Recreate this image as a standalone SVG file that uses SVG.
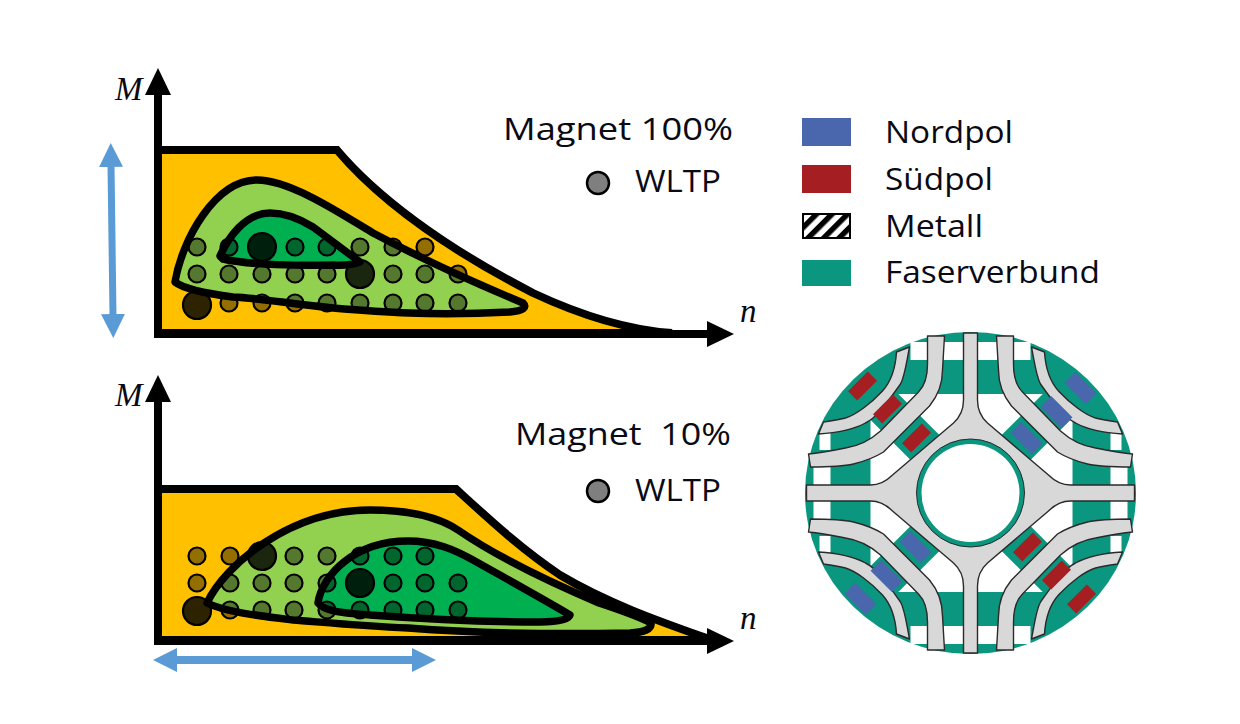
<svg xmlns="http://www.w3.org/2000/svg" width="1240" height="724" viewBox="0 0 1240 724">
<style>
text{font-family:"Open Sans","Noto Sans","Liberation Sans",sans-serif;font-size:31px;fill:#0a0a14}
.var{font-family:"Liberation Serif",serif;font-style:italic;font-size:33px}
.area{fill:#ffc000;stroke:#000;stroke-width:8;stroke-linejoin:miter}
.l{fill:#92d050;stroke:#000;stroke-width:7.5;stroke-linejoin:round}
.d{fill:#00b050;stroke:#000;stroke-width:7.5;stroke-linejoin:round}
.axis{stroke:#000;stroke-width:8;fill:none}
.blue{stroke:#5b9bd5;stroke-width:7;fill:none}
.dots circle{fill:#000;fill-opacity:.42;stroke:#000;stroke-width:2.2}
circle.big{fill-opacity:.82!important}
.leg{fill:#7f7f7f;stroke:#000;stroke-width:2.5}
.band{fill:#d8d8d8;stroke:#2a2a2a;stroke-width:1.4;stroke-linejoin:round}
.t{fill:#0a967f}
.w{fill:#fff}
.n{fill:#4a66ad}
.s{fill:#a51e22}
</style>
<defs>
<marker id="ah" viewBox="0 0 28 26" refX="2" refY="13" markerWidth="28" markerHeight="26" markerUnits="userSpaceOnUse" orient="auto"><path d="M0,0L27,13L0,26Z" fill="#000"/></marker>
<marker id="bh" viewBox="0 0 24 24" refX="2" refY="12" markerWidth="24" markerHeight="24" markerUnits="userSpaceOnUse" orient="auto-start-reverse"><path d="M0,0L24,12L0,24Z" fill="#5b9bd5"/></marker>
<pattern id="hatch" width="11" height="11" patternUnits="userSpaceOnUse" patternTransform="rotate(45)"><rect width="11" height="11" fill="#fff"/><rect width="5.5" height="11" fill="#000"/></pattern>
<clipPath id="disc"><ellipse cx="0" cy="0" rx="165.5" ry="161"/></clipPath>
<g id="quad">
<rect class="w" x="-27" y="-151" width="20" height="18"/>
<rect class="w" x="-60" y="-151" width="17" height="18"/>
<rect class="w" x="-157" y="-27" width="17" height="20"/>
<rect class="w" x="-151" y="-60" width="11" height="17"/>
<path class="band" d="M-43,-157L-43,-129C-43,-115-46,-107-52,-101L-90,-62C-100,-53-112,-47-125,-45C-140,-42-150,-40-162,-39L-160,-26C-145,-26-130,-26-117,-29C-105,-32-95,-36-87,-41L-41,-87C-32,-98-28,-110-28,-123L-26,-157Z"/>
<path class="band" d="M-74,-141C-75,-125-79,-112-88,-102C-100,-89-115,-78-125,-75C-133,-73-140,-72-147,-71L-152,-59C-135,-60-118,-63-105,-70C-95,-75-87,-85-70,-109C-66,-116-65,-125-61,-146Z"/>
</g>
<g id="frame" clip-path="url(#disc)">
<rect class="t" x="-170" y="-165" width="340" height="330"/>
<rect class="w" x="-100" y="-99" width="202" height="198"/>
<rect class="t" x="-19" y="-148" width="38" height="90" transform="rotate(-45)"/>
<rect class="t" x="-19" y="-148" width="38" height="90" transform="rotate(45)"/>
<rect class="t" x="-19" y="-148" width="38" height="90" transform="rotate(135)"/>
<rect class="t" x="-19" y="-148" width="38" height="90" transform="rotate(225)"/>
</g>
</defs>

<g id="plot-top">
<path class="area" d="M158,150L337,150C375,195 440,245 533,293C580,315 630,330 672,333L158,333Z"/>
<path class="l" d="M175,282C182,240 215,180 257,180C290,180 340,213 373,233C420,258 480,285 523,303Q530,310 510,312C430,316 380,312 333,308C290,304 260,298 233,297C210,294 185,290 175,282Z"/>
<path class="d" d="M220,256C228,238 245,213 270,213C290,213 305,222 313,227L360,262Q350,266 333,265C300,266 250,265 223,259Z"/>
<g class="dots">
<circle cx="197" cy="247" r="8.5"/><circle cx="229" cy="247" r="8.5"/><circle cx="295" cy="247" r="8.5"/><circle cx="327" cy="247" r="8.5"/><circle cx="360" cy="247" r="8.5"/><circle cx="393" cy="247" r="8.5"/><circle cx="425" cy="247" r="8.5"/>
<circle cx="197" cy="274" r="8.5"/><circle cx="229" cy="274" r="8.5"/><circle cx="262" cy="274" r="8.5"/><circle cx="295" cy="274" r="8.5"/><circle cx="327" cy="274" r="8.5"/><circle cx="393" cy="274" r="8.5"/><circle cx="425" cy="274" r="8.5"/><circle cx="458" cy="274" r="8.5"/>
<circle cx="229" cy="303" r="8.5"/><circle cx="262" cy="303" r="8.5"/><circle cx="295" cy="303" r="8.5"/><circle cx="327" cy="303" r="8.5"/><circle cx="360" cy="303" r="8.5"/><circle cx="393" cy="303" r="8.5"/><circle cx="425" cy="303" r="8.5"/><circle cx="458" cy="303" r="8.5"/>
<circle class="big" cx="262" cy="247" r="14"/><circle class="big" cx="360" cy="274" r="14"/><circle class="big" cx="197" cy="305" r="14"/>
</g>
</g>

<g id="plot-bottom">
<path class="area" d="M158,489L456,489C490,520 520,548 560,575C610,605 670,625 712,640L158,640Z"/>
<path class="l" d="M207,603C225,565 290,510 370,510C410,510 440,518 458,530C490,552 540,578 599,603C620,610 640,617 651,623Q652,632 630,633C530,635 460,632 408,628C360,626 320,622 293,620C260,616 225,612 207,603Z"/>
<path class="d" d="M318,603C322,575 355,541 408,541C435,541 455,550 473,560C505,578 545,600 570,615Q568,622 540,622C480,622 410,618 370,615C345,613 325,612 318,603Z"/>
<g class="dots">
<circle cx="197" cy="556" r="8.5"/><circle cx="230" cy="556" r="8.5"/><circle cx="294" cy="556" r="8.5"/><circle cx="327" cy="556" r="8.5"/><circle cx="360" cy="556" r="8.5"/><circle cx="393" cy="556" r="8.5"/><circle cx="425" cy="556" r="8.5"/>
<circle cx="197" cy="583" r="8.5"/><circle cx="230" cy="583" r="8.5"/><circle cx="262" cy="583" r="8.5"/><circle cx="294" cy="583" r="8.5"/><circle cx="327" cy="583" r="8.5"/><circle cx="393" cy="583" r="8.5"/><circle cx="425" cy="583" r="8.5"/><circle cx="458" cy="583" r="8.5"/>
<circle cx="230" cy="610" r="8.5"/><circle cx="262" cy="610" r="8.5"/><circle cx="294" cy="610" r="8.5"/><circle cx="327" cy="610" r="8.5"/><circle cx="360" cy="610" r="8.5"/><circle cx="393" cy="610" r="8.5"/><circle cx="425" cy="610" r="8.5"/><circle cx="458" cy="610" r="8.5"/>
<circle class="big" cx="262" cy="556" r="14"/><circle class="big" cx="360" cy="583" r="14"/><circle class="big" cx="197" cy="611" r="14"/>
</g>
</g>

<g id="connectors">
<path class="axis" marker-end="url(#ah)" d="M158,337L158,93"/>
<path class="axis" marker-end="url(#ah)" d="M154,334L709,334"/>
<path class="axis" marker-end="url(#ah)" d="M158,644L158,400"/>
<path class="axis" marker-end="url(#ah)" d="M154,641L709,641"/>
<path class="blue" marker-start="url(#bh)" marker-end="url(#bh)" d="M111,165L113,316"/>
<path class="blue" style="stroke-width:8" marker-start="url(#bh)" marker-end="url(#bh)" d="M175,660L414,660"/>
</g>

<g id="labels">
<text class="var" x="115" y="100">M</text>
<text class="var" x="740" y="322">n</text>
<text class="var" x="115" y="406">M</text>
<text class="var" x="740" y="629">n</text>
<text x="503" y="140" textLength="230" lengthAdjust="spacingAndGlyphs">Magnet 100%</text>
<text x="515" y="445" textLength="216" lengthAdjust="spacingAndGlyphs" xml:space="preserve">Magnet  10%</text>
<circle class="leg" cx="598" cy="183" r="11"/>
<text x="635" y="192" textLength="86" lengthAdjust="spacingAndGlyphs">WLTP</text>
<circle class="leg" cx="598" cy="491" r="11"/>
<text x="635" y="501" textLength="86" lengthAdjust="spacingAndGlyphs">WLTP</text>
</g>

<g id="legend">
<rect class="n" x="802" y="118" width="49" height="28"/>
<text x="885" y="143" textLength="128" lengthAdjust="spacingAndGlyphs">Nordpol</text>
<rect class="s" x="802" y="165" width="49" height="28"/>
<text x="885" y="190" textLength="108" lengthAdjust="spacingAndGlyphs">Südpol</text>
<rect x="803" y="214" width="47" height="24" fill="url(#hatch)" stroke="#000" stroke-width="2"/>
<text x="885" y="237" textLength="98" lengthAdjust="spacingAndGlyphs">Metall</text>
<rect class="t" x="802" y="260" width="49" height="26"/>
<text x="885" y="283" textLength="215" lengthAdjust="spacingAndGlyphs">Faserverbund</text>
</g>

<g id="rotor" transform="translate(970.5,493)">
<use href="#frame"/>
<use href="#quad"/>
<use href="#quad" transform="scale(-1,1)"/>
<use href="#quad" transform="scale(1,-1)"/>
<use href="#quad" transform="scale(-1,-1)"/>
<path class="band" d="M-7,-160L-7,-93Q-7,-79-17,-70L-78,-18Q-88,-8-100,-8L-164,-8L-164,8L-100,8Q-88,8-78,18L-17,70Q-7,79-7,93L-7,160L7,160L7,93Q7,79 17,70L78,18Q88,8 100,8L164,8L164,-8L100,-8Q88,-8 78,-18L17,-70Q7,-79 7,-93L7,-160Z"/>
<circle cx="0" cy="0" r="54" fill="#0a967f" stroke="#2a2a2a" stroke-width="1"/>
<circle class="w" cx="0" cy="0" r="49"/>
<g class="s">
<rect x="-14" y="-6.5" width="28" height="13" transform="translate(-108,-107) rotate(-45)"/>
<rect x="-14" y="-6.5" width="28" height="13" transform="translate(-83,-84) rotate(-45)"/>
<rect x="-14" y="-6.5" width="28" height="13" transform="translate(-54,-55) rotate(-45)"/>
<rect x="-14" y="-6.5" width="28" height="13" transform="translate(111,106) rotate(-45)"/>
<rect x="-14" y="-6.5" width="28" height="13" transform="translate(86,82) rotate(-45)"/>
<rect x="-14" y="-6.5" width="28" height="13" transform="translate(57,54) rotate(-45)"/>
</g>
<g class="n">
<rect x="-15" y="-7.5" width="30" height="15" transform="translate(110,-105) rotate(45)"/>
<rect x="-15" y="-7.5" width="30" height="15" transform="translate(86,-81) rotate(45)"/>
<rect x="-15" y="-7.5" width="30" height="15" transform="translate(56,-55) rotate(45)"/>
<rect x="-15" y="-7.5" width="30" height="15" transform="translate(-110,106) rotate(45)"/>
<rect x="-15" y="-7.5" width="30" height="15" transform="translate(-84,83) rotate(45)"/>
<rect x="-15" y="-7.5" width="30" height="15" transform="translate(-55,54) rotate(45)"/>
</g>
</g>
</svg>
